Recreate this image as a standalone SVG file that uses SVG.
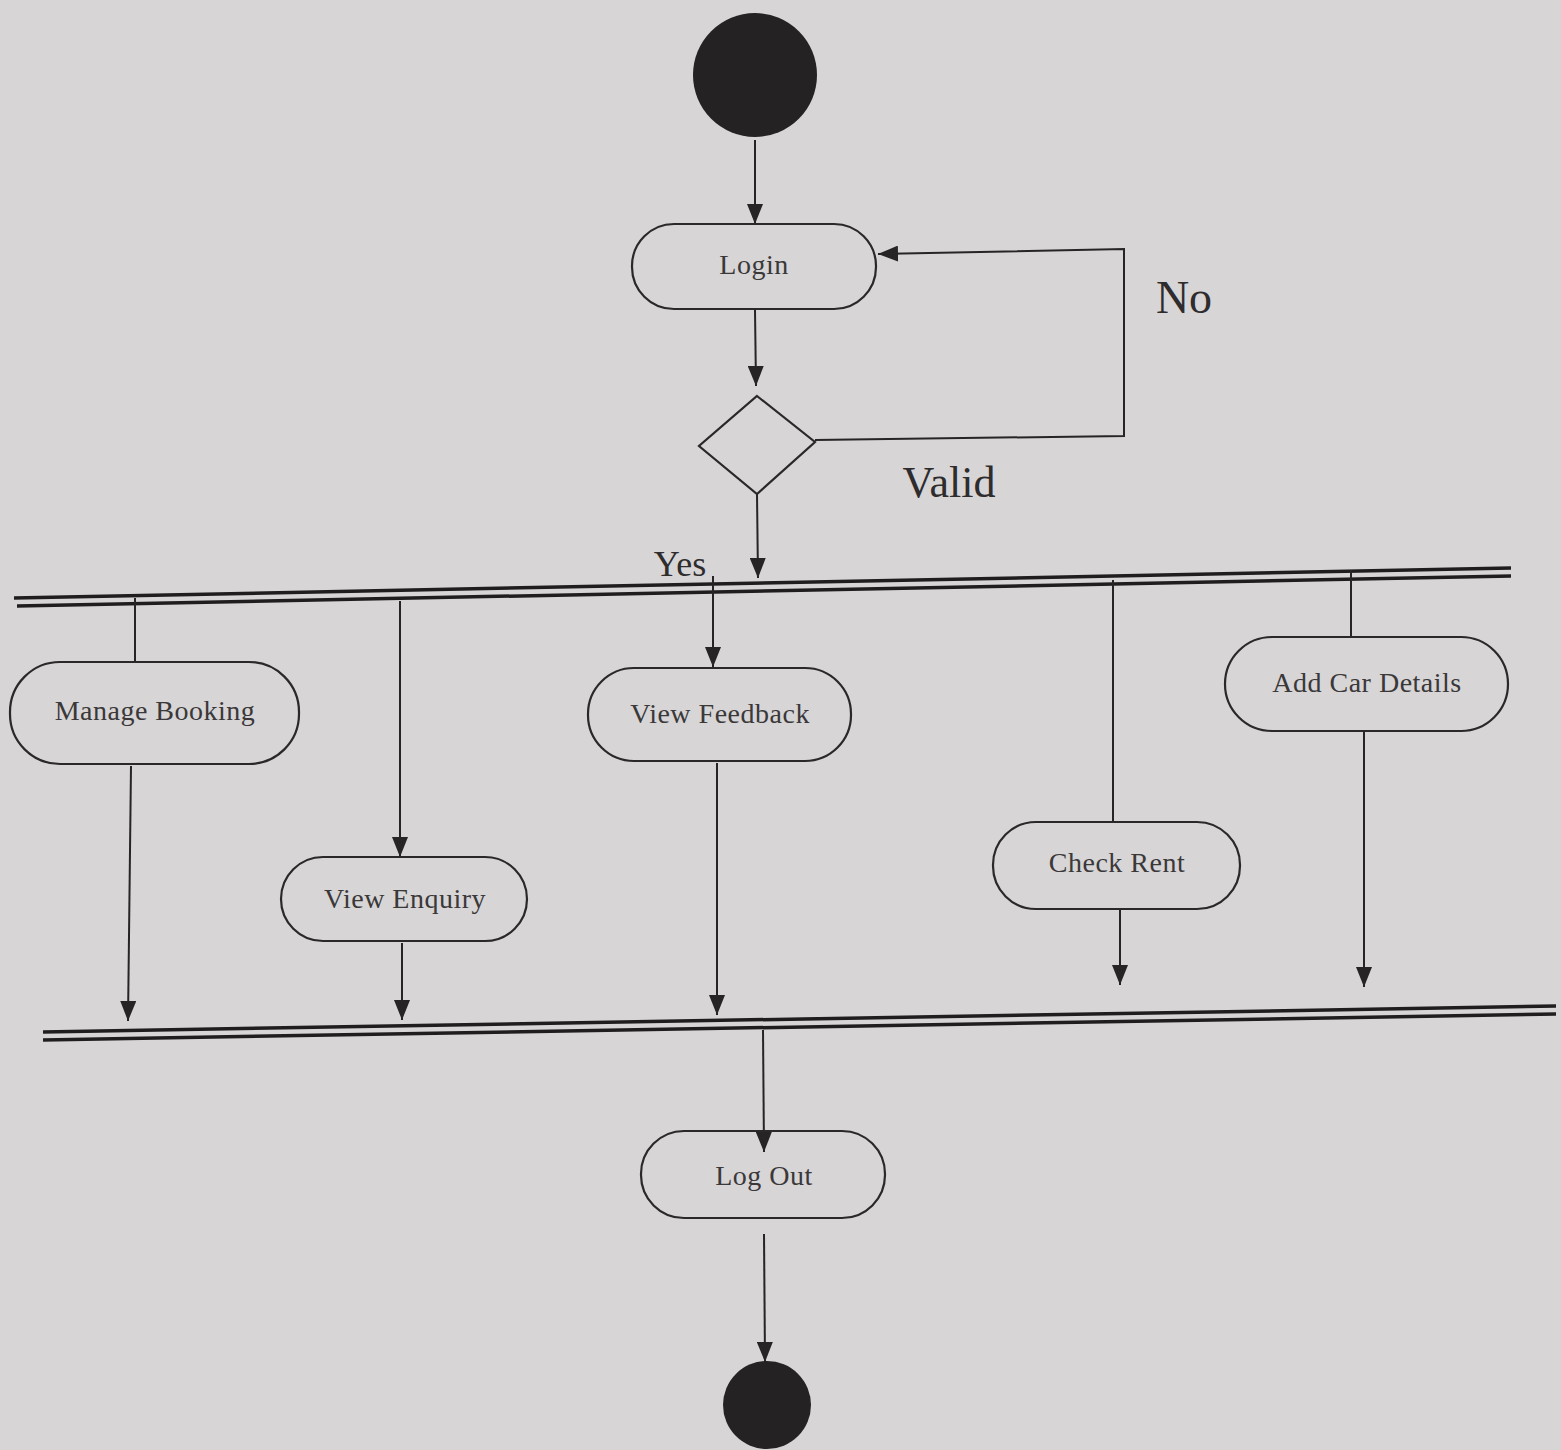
<svg xmlns="http://www.w3.org/2000/svg" width="1561" height="1450" viewBox="0 0 1561 1450">
  <defs>
    <marker id="arrow" viewBox="0 0 20 16" refX="20" refY="8" markerWidth="20" markerHeight="16" markerUnits="userSpaceOnUse" orient="auto">
      <path d="M0,0 L20,8 L0,16 z" fill="#262425"/>
    </marker>
    <style>
      .bg { fill: #d7d5d6; }
      .act { fill: none; stroke: #2a2829; stroke-width: 2.2; }
      .label { font-family: "Liberation Serif", "Times New Roman", serif; font-size: 28px; fill: #3a3839; text-anchor: middle; dominant-baseline: central; letter-spacing: 0.5px; }
      .guard { font-family: "Liberation Serif", "Times New Roman", serif; fill: #2e2c2d; text-anchor: middle; }
      .edge { fill: none; stroke: #262425; stroke-width: 2; }
      .arr { marker-end: url(#arrow); }
      .bar { stroke: #1f1d1e; stroke-width: 3.5; fill: none; }
      .dot { fill: #252223; }
    </style>
  </defs>

  <rect class="bg" x="0" y="0" width="1561" height="1450"/>

  <!-- synchronisation bars -->
  <g id="fork">
    <line class="bar" x1="14" y1="598" x2="1511" y2="568"/>
    <line class="bar" x1="17" y1="606" x2="1511" y2="576"/>
  </g>
  <g id="join">
    <line class="bar" x1="43" y1="1032" x2="1556" y2="1006"/>
    <line class="bar" x1="43" y1="1040" x2="1556" y2="1014"/>
  </g>

  <!-- control flow -->
  <g id="connectors">
    <line class="edge arr" x1="755" y1="140" x2="755" y2="224"/>
    <line class="edge arr" x1="755" y1="310" x2="756" y2="386"/>
    <polyline class="edge arr" points="815,440 1124,436 1124,249 878,254"/>
    <line class="edge arr" x1="757" y1="494" x2="758" y2="578"/>

    <line class="edge" x1="135" y1="598" x2="135" y2="662"/>
    <line class="edge arr" x1="400" y1="601" x2="400" y2="857"/>
    <line class="edge arr" x1="713" y1="576" x2="713" y2="667"/>
    <line class="edge" x1="1113" y1="580" x2="1113" y2="822"/>
    <line class="edge" x1="1351" y1="570" x2="1351" y2="638"/>

    <line class="edge arr" x1="131" y1="766" x2="128" y2="1021"/>
    <line class="edge arr" x1="402" y1="943" x2="402" y2="1020"/>
    <line class="edge arr" x1="717" y1="763" x2="717" y2="1015"/>
    <line class="edge arr" x1="1120" y1="910" x2="1120" y2="985"/>
    <line class="edge arr" x1="1364" y1="732" x2="1364" y2="987"/>

    <line class="edge arr" x1="763" y1="1030" x2="764" y2="1152"/>
    <line class="edge arr" x1="764" y1="1234" x2="765" y2="1362"/>

    <text class="guard" x="1184" y="313" font-size="46">No</text>
    <text class="guard" x="949" y="497" font-size="44">Valid</text>
    <text class="guard" x="680" y="576" font-size="36">Yes</text>
  </g>

  <g id="start">
    <circle class="dot" cx="755" cy="75" r="62"/>
  </g>

  <g id="login">
    <rect class="act" x="632" y="224" width="244" height="85" rx="42"/>
    <text class="label" x="754" y="264">Login</text>
  </g>

  <g id="decision">
    <polygon class="act" points="757,396 815,442 757,494 699,446"/>
  </g>

  <g id="manage-booking">
    <rect class="act" x="10" y="662" width="289" height="102" rx="50"/>
    <text class="label" x="155" y="710">Manage Booking</text>
  </g>

  <g id="view-enquiry">
    <rect class="act" x="281" y="857" width="246" height="84" rx="42"/>
    <text class="label" x="405" y="898">View Enquiry</text>
  </g>

  <g id="view-feedback">
    <rect class="act" x="588" y="668" width="263" height="93" rx="46"/>
    <text class="label" x="720" y="713">View Feedback</text>
  </g>

  <g id="check-rent">
    <rect class="act" x="993" y="822" width="247" height="87" rx="43"/>
    <text class="label" x="1117" y="862">Check Rent</text>
  </g>

  <g id="add-car-details">
    <rect class="act" x="1225" y="637" width="283" height="94" rx="47"/>
    <text class="label" x="1367" y="682">Add Car Details</text>
  </g>

  <g id="log-out">
    <rect class="act" x="641" y="1131" width="244" height="87" rx="43"/>
    <text class="label" x="764" y="1175">Log Out</text>
  </g>

  <g id="end">
    <circle class="dot" cx="767" cy="1405" r="44"/>
  </g>
</svg>
